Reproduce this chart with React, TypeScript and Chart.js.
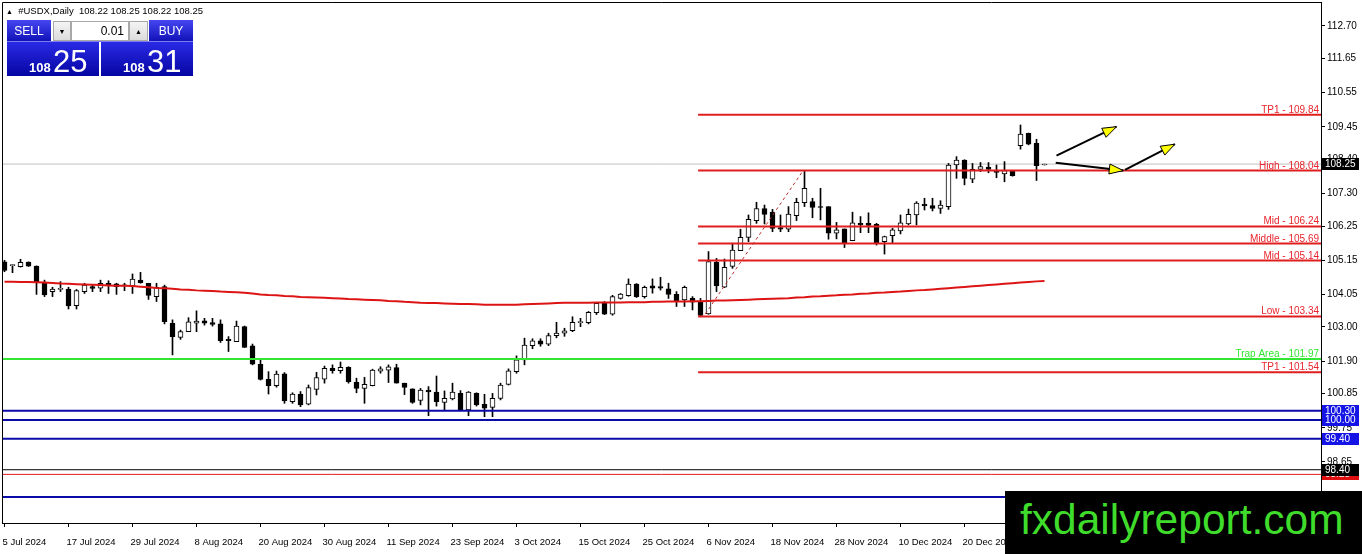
import React, { useEffect, useRef } from 'react';
import { Chart, registerables } from 'chart.js';

Chart.register(...registerables);

const FONT = "'Liberation Sans', Arial, sans-serif";

// x-axis labels, one every 8 daily bars
const dateTicks = [
  '5 Jul 2024', '17 Jul 2024', '29 Jul 2024', '8 Aug 2024', '20 Aug 2024', '30 Aug 2024',
  '11 Sep 2024', '23 Sep 2024', '3 Oct 2024', '15 Oct 2024', '25 Oct 2024', '6 Nov 2024',
  '18 Nov 2024', '28 Nov 2024', '10 Dec 2024', '20 Dec 2024', '3 Jan 2025',
];

// right-axis price labels
const priceTicks = [98.65, 99.75, 100.85, 101.9, 103.0, 104.05, 105.15, 106.25, 107.3, 108.4, 109.45, 110.55, 111.65, 112.7];

// daily OHLC
const opens = [
  105.10, 104.98, 104.94, 105.09, 104.96, 104.41, 104.14, 104.21, 104.22, 103.69,
  104.14, 104.30, 104.25, 104.41, 104.39, 104.36, 104.32, 104.51, 104.41, 103.98,
  104.30, 103.12, 102.66, 102.85, 103.12, 103.20, 103.14, 103.10, 102.60, 102.53,
  103.01, 102.39, 101.80, 101.31, 101.11, 101.49, 100.59, 100.84, 100.51, 100.99,
  101.32, 101.67, 101.59, 101.70, 101.22, 101.02, 101.11, 101.58, 101.61, 101.69,
  101.19, 101.01, 100.63, 100.97, 100.90, 100.57, 100.68, 100.86, 100.33, 100.86,
  100.51, 100.41, 100.70, 101.15, 101.56, 101.94, 102.40, 102.55, 102.45, 102.72,
  102.80, 102.88, 103.14, 103.14, 103.46, 103.78, 103.41, 103.92, 104.01, 104.38,
  103.98, 104.33, 104.30, 104.23, 104.05, 103.87, 103.92, 103.82, 103.42, 105.08,
  104.28, 104.95, 105.46, 105.89, 106.43, 106.82, 106.70, 106.20, 106.15, 106.59,
  107.01, 107.04, 106.88, 106.88, 106.02, 106.16, 105.78, 106.34, 106.34, 106.31,
  105.75, 105.94, 106.10, 106.32, 106.61, 106.95, 106.91, 106.82, 106.88, 108.22,
  108.38, 107.76, 108.08, 108.15, 108.04, 107.93, 108.04, 108.84, 109.24, 108.92,
  108.22,
];
const highs = [
  105.15, 105.01, 105.18, 105.10, 104.97, 104.51, 104.28, 104.46, 104.28, 104.21,
  104.41, 104.35, 104.51, 104.49, 104.41, 104.41, 104.71, 104.76, 104.41, 104.41,
  104.35, 103.23, 102.90, 103.30, 103.52, 103.28, 103.28, 103.23, 102.69, 103.19,
  103.03, 102.45, 101.94, 101.56, 101.58, 101.53, 100.88, 100.92, 101.13, 101.54,
  101.74, 101.78, 101.87, 101.72, 101.35, 101.38, 101.64, 101.72, 101.78, 101.80,
  101.19, 101.01, 101.02, 101.08, 101.42, 100.94, 101.19, 100.95, 100.92, 100.88,
  100.83, 100.86, 101.19, 101.65, 102.07, 102.64, 102.62, 102.62, 102.80, 103.15,
  102.96, 103.33, 103.28, 103.50, 103.79, 103.82, 104.02, 104.08, 104.55, 104.40,
  104.32, 104.55, 104.60, 104.41, 104.14, 104.32, 103.98, 103.92, 105.43, 105.21,
  105.19, 105.70, 106.15, 106.61, 107.02, 106.93, 106.79, 106.61, 106.88, 107.15,
  108.03, 107.15, 107.47, 106.88, 106.37, 106.16, 106.70, 106.56, 106.68, 106.34,
  105.93, 106.18, 106.61, 106.80, 107.04, 107.15, 107.15, 107.07, 108.27, 108.49,
  108.39, 108.27, 108.30, 108.30, 108.22, 108.33, 108.05, 109.51, 109.25, 109.05,
  108.25,
];
const lows = [
  104.78, 104.75, 104.93, 104.95, 104.05, 103.98, 103.98, 104.14, 103.58, 103.58,
  104.08, 104.14, 104.14, 104.08, 104.05, 104.17, 104.08, 104.41, 103.89, 103.82,
  103.10, 102.10, 102.60, 102.85, 102.85, 103.06, 103.03, 102.50, 102.21, 102.53,
  102.34, 101.78, 101.29, 100.84, 101.06, 100.54, 100.54, 100.43, 100.49, 100.81,
  101.19, 101.51, 101.51, 101.19, 100.88, 100.54, 101.10, 101.51, 101.21, 101.19,
  100.82, 100.54, 100.49, 100.14, 100.45, 100.33, 100.65, 100.30, 100.14, 100.45,
  100.11, 100.11, 100.65, 101.13, 101.51, 101.78, 102.30, 102.38, 102.40, 102.65,
  102.70, 102.85, 103.01, 103.10, 103.40, 103.40, 103.38, 103.90, 103.99, 103.95,
  103.93, 104.09, 104.19, 103.92, 103.66, 103.66, 103.55, 103.33, 103.41, 104.14,
  104.27, 104.89, 105.46, 105.75, 106.34, 106.32, 106.07, 106.07, 106.07, 106.43,
  106.88, 106.52, 106.45, 105.83, 105.84, 105.56, 105.78, 106.04, 106.04, 105.64,
  105.35, 105.72, 106.00, 106.29, 106.29, 106.77, 106.74, 106.66, 106.79, 107.79,
  107.58, 107.65, 108.01, 107.97, 107.81, 107.68, 107.86, 108.73, 108.87, 107.72,
  108.22,
];
const closes = [
  104.82, 105.00, 105.08, 104.96, 104.44, 104.03, 104.22, 104.23, 103.68, 104.17,
  104.35, 104.24, 104.41, 104.34, 104.30, 104.32, 104.54, 104.43, 104.02, 104.28,
  103.17, 102.69, 102.85, 103.17, 103.19, 103.12, 103.08, 102.56, 102.56, 103.03,
  102.34, 101.80, 101.31, 101.11, 101.48, 100.62, 100.84, 100.49, 101.05, 101.37,
  101.67, 101.59, 101.70, 101.24, 101.02, 101.15, 101.61, 101.65, 101.72, 101.19,
  101.05, 100.57, 100.97, 100.91, 100.59, 100.70, 100.90, 100.33, 100.90, 100.49,
  100.38, 100.70, 101.13, 101.59, 101.94, 102.42, 102.55, 102.45, 102.72, 102.80,
  102.88, 103.15, 103.17, 103.47, 103.76, 103.41, 103.98, 104.06, 104.38, 103.98,
  104.28, 104.25, 104.25, 104.05, 103.85, 104.28, 103.80, 103.37, 105.11, 104.32,
  104.92, 105.48, 105.89, 106.47, 106.82, 106.63, 106.18, 106.15, 106.64, 107.02,
  107.47, 106.85, 106.85, 106.02, 106.13, 105.72, 106.36, 106.29, 106.27, 105.70,
  105.91, 106.13, 106.36, 106.63, 106.99, 106.90, 106.82, 106.93, 108.22, 108.38,
  107.79, 108.08, 108.17, 108.08, 107.98, 108.04, 107.88, 109.22, 108.89, 108.20,
  108.25,
];

// moving average (red curve)
const movingAverage = [
  104.46, 104.46, 104.45, 104.45, 104.44, 104.43, 104.42, 104.40, 104.39, 104.38,
  104.37, 104.36, 104.35, 104.34, 104.33, 104.33, 104.32, 104.30, 104.28, 104.26,
  104.25, 104.23, 104.21, 104.20, 104.18, 104.17, 104.16, 104.14, 104.13, 104.12,
  104.10, 104.08, 104.05, 104.03, 104.02, 104.00, 103.99, 103.97, 103.96, 103.95,
  103.94, 103.93, 103.92, 103.90, 103.89, 103.88, 103.87, 103.86, 103.84, 103.83,
  103.81, 103.80, 103.78, 103.77, 103.77, 103.76, 103.75, 103.74, 103.74, 103.73,
  103.72, 103.72, 103.72, 103.72, 103.72, 103.73, 103.74, 103.75, 103.76, 103.77,
  103.78, 103.78, 103.78, 103.78, 103.79, 103.79, 103.79, 103.79, 103.80, 103.80,
  103.80, 103.81, 103.81, 103.82, 103.82, 103.82, 103.83, 103.83, 103.84, 103.85,
  103.85, 103.86, 103.87, 103.88, 103.89, 103.90, 103.91, 103.92, 103.93, 103.95,
  103.96, 103.98, 103.99, 104.01, 104.02, 104.04, 104.05, 104.07, 104.08, 104.10,
  104.11, 104.13, 104.14, 104.16, 104.18, 104.19, 104.21, 104.23, 104.25, 104.27,
  104.29, 104.31, 104.33, 104.35, 104.37, 104.39, 104.41, 104.43, 104.45, 104.47,
  104.48,
];

// horizontal levels drawn from the Nov swing
const levelNames = ['TP1', 'High', 'Mid', 'Middle', 'Mid', 'Low', 'Trap Area', 'TP1'];
const levelValues = [109.84, 108.04, 106.24, 105.69, 105.14, 103.34, 101.97, 101.54];
const levelStartBar = 86.7;

// full-width lines
const blueLevels = [100.3, 100.0, 99.4, 97.52];
const bidPrice = 108.25;
const blackLevel = 98.4;
const redThinLevel = 98.25;

// dashed trend line (bar, price)
const trendBars = [87.6, 99.8];
const trendPrices = [103.42, 108.03];

// arrows (start bar/price -> end bar/price)
const arrowBar0 = [131.5, 131.4, 140.06];
const arrowPrice0 = [108.52, 108.295, 108.06];
const arrowBar1 = [139.0, 139.85, 146.3];
const arrowPrice1 = [109.455, 108.04, 108.89];

// price tags on the right axis
const tagValues = [108.25, 100.3, 100.0, 99.4, 98.25, 98.4];
const tagKinds = ['black', 'blue', 'blue', 'blue', 'red', 'black'];

const X_MIN = -0.3125;
const X_MAX = 164.5625;
const Y_MIN = 96.6832;
const Y_MAX = 113.4734;

const RED = '#e01e1e';
const RED_TEXT = '#e8242c';
const GREEN = '#33e633';
const BLUE = '#0a0aa8';
const TAG_COLORS: Record<string, string> = { black: '#000000', blue: '#1414e6', red: '#e01010' };

const zeroPadding = (s: any) => {
  s.paddingLeft = 0;
  s.paddingRight = 0;
  s.paddingTop = 0;
  s.paddingBottom = 0;
};

export default function App() {
  const canvasRef = useRef<HTMLCanvasElement | null>(null);

  useEffect(() => {
    document.body.style.margin = '0';
    const canvas = canvasRef.current;
    if (!canvas) return;

    const datasets: any[] = [];
    const hline = (y: number, x0: number, color: string, width: number, order: number) => ({
      type: 'line',
      data: [{ x: x0, y }, { x: X_MAX, y }],
      borderColor: color,
      borderWidth: width,
      pointRadius: 0,
      fill: false,
      order,
    });

    datasets.push({
      type: 'bar',
      data: highs.map((h, i) => ({ x: i, y: [lows[i], h] })),
      backgroundColor: '#000',
      borderWidth: 0,
      barThickness: 1,
      grouped: false,
      order: 21,
    });
    datasets.push({
      type: 'bar',
      data: opens.map((o, i) => ({ x: i, y: [o, closes[i]] })),
      backgroundColor: closes.map((c, i) => (c >= opens[i] ? '#ffffff' : '#000000')),
      borderColor: '#000',
      borderWidth: 1,
      borderSkipped: false,
      barThickness: 5,
      minBarLength: 1,
      grouped: false,
      order: 20,
    });

    datasets.push(hline(bidPrice, X_MIN, '#c0c0c0', 1, 30));
    blueLevels.forEach((v) => datasets.push(hline(v, X_MIN, BLUE, 2, 8)));
    datasets.push(hline(blackLevel, X_MIN, '#000', 1, 8));
    datasets.push(hline(redThinLevel, X_MIN, RED, 1, 8));
    levelValues.forEach((v, k) => {
      if (levelNames[k] === 'Trap Area') datasets.push(hline(v, X_MIN, GREEN, 2, 7));
      else datasets.push(hline(v, levelStartBar, RED, 2, 7));
    });

    datasets.push({
      type: 'line',
      data: movingAverage.map((v, i) => ({ x: i, y: v })),
      borderColor: '#dd1414',
      borderWidth: 2,
      pointRadius: 0,
      fill: false,
      tension: 0,
      order: 6,
    });

    datasets.push({
      type: 'line',
      data: trendBars.map((b, k) => ({ x: b, y: trendPrices[k] })),
      borderColor: '#b83030',
      borderWidth: 1,
      borderDash: [3, 3],
      pointRadius: 0,
      fill: false,
      order: 5,
    });

    const arrowIdx: number[] = [];
    arrowBar0.forEach((b, k) => {
      arrowIdx.push(datasets.length);
      datasets.push({
        type: 'line',
        data: [{ x: b, y: arrowPrice0[k] }, { x: arrowBar1[k], y: arrowPrice1[k] }],
        borderColor: '#000',
        borderWidth: 2,
        pointRadius: 0,
        fill: false,
        order: 1,
        clip: false,
      });
    });

    const overlay = {
      id: 'overlay',
      afterDatasetsDraw(chart: any) {
        const { ctx, chartArea } = chart;
        const y = chart.scales.y;
        ctx.save();
        ctx.font = `10px ${FONT}`;
        ctx.textAlign = 'right';
        ctx.textBaseline = 'alphabetic';
        levelValues.forEach((v, k) => {
          const py = y.getPixelForValue(v);
          ctx.fillStyle = levelNames[k] === 'Trap Area' ? GREEN : RED_TEXT;
          ctx.fillText(`${levelNames[k]} - ${v.toFixed(2)}`, chartArea.right - 2, py - 2);
        });
        arrowIdx.forEach((di) => {
          const pts = chart.getDatasetMeta(di).data;
          const a = pts[0];
          const b = pts[1];
          const ang = Math.atan2(b.y - a.y, b.x - a.x);
          const len = 14;
          const hw = 5;
          const bx = b.x - len * Math.cos(ang);
          const by = b.y - len * Math.sin(ang);
          ctx.beginPath();
          ctx.moveTo(b.x, b.y);
          ctx.lineTo(bx - hw * Math.sin(ang), by + hw * Math.cos(ang));
          ctx.lineTo(bx + hw * Math.sin(ang), by - hw * Math.cos(ang));
          ctx.closePath();
          ctx.fillStyle = '#ffff00';
          ctx.fill();
          ctx.strokeStyle = '#000';
          ctx.lineWidth = 1;
          ctx.stroke();
        });
        ctx.restore();
      },
      afterDraw(chart: any) {
        const { ctx, chartArea } = chart;
        const y = chart.scales.y;
        ctx.save();
        ctx.strokeStyle = '#000';
        ctx.lineWidth = 1;
        ctx.beginPath();
        ctx.moveTo(chartArea.left + 0.5, chartArea.bottom);
        ctx.lineTo(chartArea.left + 0.5, chartArea.top + 0.5);
        ctx.lineTo(chartArea.right, chartArea.top + 0.5);
        ctx.stroke();
        ctx.font = `10px ${FONT}`;
        ctx.textAlign = 'left';
        ctx.textBaseline = 'middle';
        tagValues.forEach((v, k) => {
          const py = Math.round(y.getPixelForValue(v));
          ctx.fillStyle = TAG_COLORS[tagKinds[k]];
          ctx.fillRect(chartArea.right + 1, py - 6, 37, 12);
          ctx.fillStyle = '#fff';
          ctx.fillText(v.toFixed(2), chartArea.right + 4, py + 0.5);
        });
        ctx.restore();
      },
    };

    const chart = new Chart(canvas, {
      type: 'bar',
      data: { datasets },
      options: {
        animation: false,
        responsive: false,
        maintainAspectRatio: false,
        events: [],
        layout: { padding: { left: 2, top: 2, right: 0, bottom: 0 } },
        plugins: { legend: { display: false }, tooltip: { enabled: false } },
        scales: {
          x: {
            type: 'linear',
            min: X_MIN,
            max: X_MAX,
            offset: false,
            grid: { drawOnChartArea: false, drawTicks: true, tickLength: 4, color: '#000', offset: false },
            border: { display: true, color: '#000' },
            afterBuildTicks: (s: any) => {
              s.ticks = dateTicks.map((_, k) => ({ value: k * 8 }));
            },
            afterFit: (s: any) => {
              s.height = 31;
              zeroPadding(s);
            },
            ticks: {
              autoSkip: false,
              maxRotation: 0,
              minRotation: 0,
              align: 'start',
              labelOffset: -2,
              color: '#000',
              padding: 10,
              font: { family: FONT, size: 9.5 },
              callback: (v: any) => dateTicks[Math.round(Number(v) / 8)] ?? '',
            },
          },
          y: {
            type: 'linear',
            position: 'right',
            min: Y_MIN,
            max: Y_MAX,
            grid: { drawOnChartArea: false, drawTicks: true, tickLength: 4, color: '#000' },
            border: { display: true, color: '#000' },
            afterBuildTicks: (s: any) => {
              s.ticks = priceTicks.map((v) => ({ value: v }));
            },
            afterFit: (s: any) => {
              s.width = 41;
              zeroPadding(s);
            },
            ticks: {
              autoSkip: false,
              color: '#000',
              padding: 2,
              font: { family: FONT, size: 10 },
              callback: (v: any) => Number(v).toFixed(2),
            },
          },
        },
      } as any,
      plugins: [overlay],
    });

    return () => chart.destroy();
  }, []);

  const btn: React.CSSProperties = {
    position: 'absolute',
    background: 'linear-gradient(#4646f2, #1212b8)',
    color: '#fff',
    font: `12px ${FONT}`,
    display: 'flex',
    alignItems: 'center',
    justifyContent: 'center',
  };
  const grey: React.CSSProperties = {
    position: 'absolute',
    top: 21,
    height: 18,
    background: 'linear-gradient(#f4f4f4, #dcdcdc)',
    border: '1px solid #a8a8a8',
    display: 'flex',
    alignItems: 'center',
    justifyContent: 'center',
    font: `7px ${FONT}`,
    color: '#000',
  };
  const big: React.CSSProperties = {
    position: 'absolute',
    top: 42,
    width: 92,
    height: 34,
    background: 'linear-gradient(#2a2ae6, #0505a2)',
  };
  const small: React.CSSProperties = {
    position: 'absolute',
    top: 61,
    color: '#fff',
    font: `bold 13px ${FONT}`,
    lineHeight: '13px',
  };
  const large: React.CSSProperties = {
    position: 'absolute',
    top: 46,
    color: '#fff',
    font: `31px ${FONT}`,
    lineHeight: '31px',
  };

  return (
    <div style={{ position: 'relative', width: 1362, height: 554, overflow: 'hidden', background: '#fff' }}>
      <canvas ref={canvasRef} width={1362} height={554} style={{ position: 'absolute', left: 0, top: 0, width: 1362, height: 554 }} />
      <div style={{ position: 'absolute', left: 6, top: 5, font: `9.5px ${FONT}`, lineHeight: '11px', color: '#000', whiteSpace: 'pre' }}>
        <span style={{ fontSize: 7 }}>▲</span>{'  #USDX,Daily  108.22 108.25 108.22 108.25'}
      </div>
      <div style={{ ...btn, left: 7, top: 20, width: 44, height: 21 }}>SELL</div>
      <div style={{ ...grey, left: 53, width: 16 }}>▼</div>
      <div style={{ ...grey, left: 71, width: 56, background: '#fff', justifyContent: 'flex-end', font: `12px ${FONT}` }}>
        <span style={{ paddingRight: 4 }}>0.01</span>
      </div>
      <div style={{ ...grey, left: 129, width: 17 }}>▲</div>
      <div style={{ ...btn, left: 149, top: 20, width: 44, height: 21 }}>BUY</div>
      <div style={{ ...big, left: 7 }} />
      <div style={{ ...big, left: 101 }} />
      <div style={{ position: 'absolute', left: 7, top: 41, width: 186, height: 1, background: '#7d7df0' }} />
      <span style={{ ...small, left: 29 }}>108</span>
      <span style={{ ...large, left: 53 }}>25</span>
      <span style={{ ...small, left: 123 }}>108</span>
      <span style={{ ...large, left: 147 }}>31</span>
      <div style={{ position: 'absolute', left: 1005, top: 491, width: 357, height: 63, background: '#000' }}>
        <span style={{ position: 'absolute', left: 15, top: 7, color: '#3fdc2c', font: `42.5px ${FONT}`, lineHeight: '43px', whiteSpace: 'nowrap' }}>
          fxdailyreport.com
        </span>
      </div>
    </div>
  );
}
